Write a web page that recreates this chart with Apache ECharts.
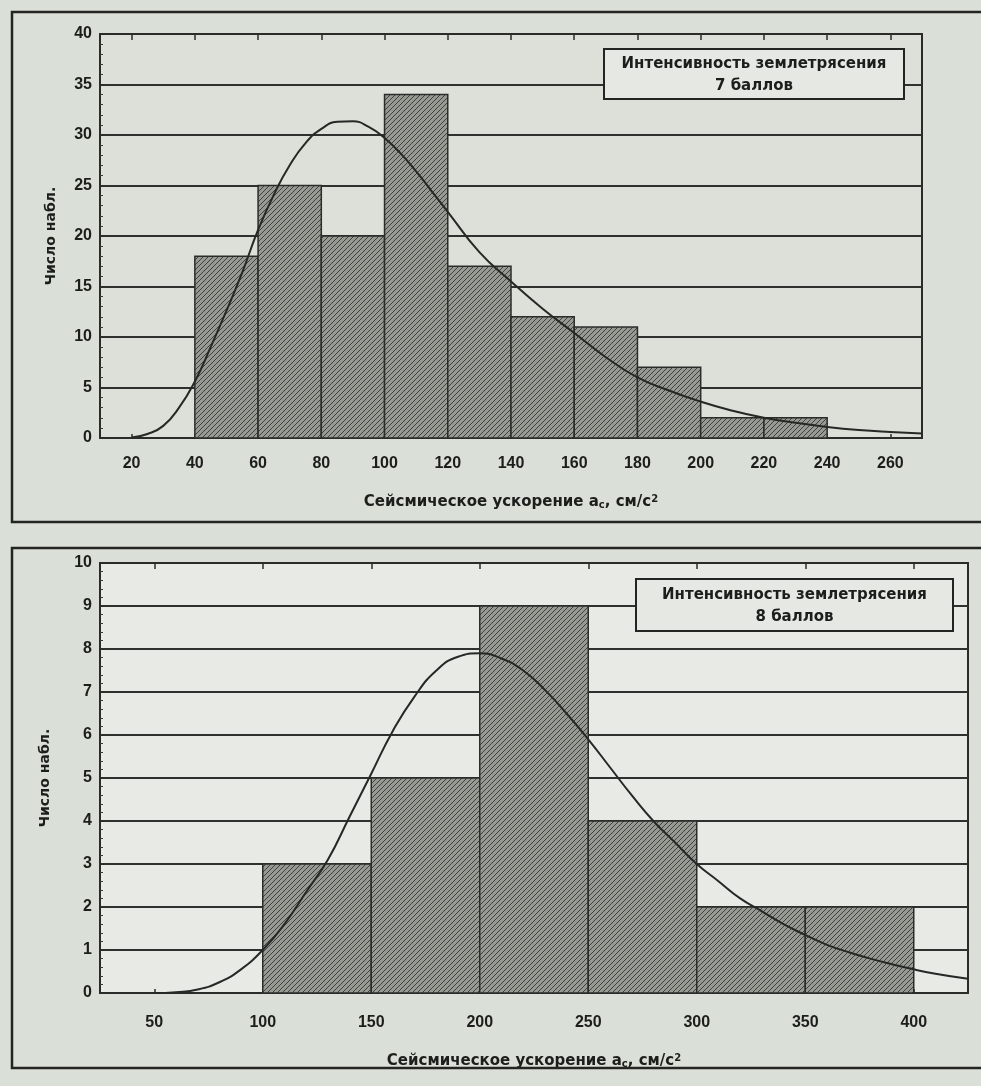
<!DOCTYPE html>
<html><head><meta charset="utf-8">
<script src="https://cdn.jsdelivr.net/npm/echarts@6/dist/echarts.min.js"></script>
<style>html,body{margin:0;padding:0;background:#dadfd7;} #c{width:981px;height:1086px;}</style>
</head><body><div id="c"></div>
<script>
// ---- Chart 1: intensity 7 ----
const bins7Start = [40, 60, 80, 100, 120, 140, 160, 180, 200, 220];
const binWidth7 = 20;
const counts7 = [18, 25, 20, 34, 17, 12, 11, 7, 2, 2];
const curve7X = [20, 25, 30, 35, 40, 45, 50, 55, 60, 65, 70, 75, 80, 85, 90, 95, 100, 105, 110, 115, 120, 130, 140, 150, 160, 170, 180, 190, 200, 210, 220, 230, 240, 250, 260, 270];
const curve7Y = [0.05, 0.4, 1.2, 3.0, 5.6, 9.0, 12.6, 16.4, 20.6, 24.1, 27.0, 29.2, 30.6, 31.3, 31.35, 30.8, 29.7, 28.2, 26.4, 24.4, 22.4, 18.4, 15.5, 12.8, 10.4, 8.0, 6.0, 4.7, 3.6, 2.7, 2.0, 1.5, 1.1, 0.8, 0.6, 0.45];
const xTicks7 = [20, 40, 60, 80, 100, 120, 140, 160, 180, 200, 220, 240, 260];
const legend7 = ['Интенсивность землетрясения', '7 баллов'];

// ---- Chart 2: intensity 8 ----
const bins8Start = [100, 150, 200, 250, 300, 350];
const binWidth8 = 50;
const counts8 = [3, 5, 9, 4, 2, 2];
const curve8X = [50, 60, 70, 80, 90, 100, 110, 120, 130, 140, 150, 160, 170, 180, 190, 200, 210, 220, 230, 240, 250, 260, 270, 280, 290, 300, 310, 320, 330, 340, 350, 360, 370, 380, 390, 400, 410, 425];
const curve8Y = [0, 0.02, 0.08, 0.25, 0.55, 1.0, 1.6, 2.35, 3.1, 4.1, 5.1, 6.1, 6.9, 7.5, 7.82, 7.9, 7.78, 7.5, 7.05, 6.5, 5.9, 5.25, 4.6, 4.0, 3.5, 3.0, 2.6, 2.2, 1.9, 1.6, 1.35, 1.12, 0.95, 0.8, 0.67, 0.55, 0.45, 0.33];
const xTicks8 = [50, 100, 150, 200, 250, 300, 350, 400];
const legend8 = ['Интенсивность землетрясения', '8 баллов'];

const yLabel = 'Число набл.';
const FONT = "'Liberation Sans','Arial',sans-serif";
const WIDE = "'DejaVu Sans','Liberation Sans',sans-serif";
const INK = '#1c1e1c';

// hatch pattern
const pc = document.createElement('canvas');
pc.width = 5; pc.height = 5;
const g = pc.getContext('2d');
g.fillStyle = '#959a93'; g.fillRect(0, 0, 5, 5);
g.strokeStyle = 'rgba(40,43,40,0.8)'; g.lineWidth = 1;
g.beginPath();
g.moveTo(0, 5); g.lineTo(5, 0);
g.moveTo(-2.5, 2.5); g.lineTo(2.5, -2.5);
g.moveTo(2.5, 7.5); g.lineTo(7.5, 2.5);
g.stroke();
const hatch = { image: pc, repeat: 'repeat' };

function histRender(params, api) {
  const p0 = api.coord([api.value(0), 0]);
  const p1 = api.coord([api.value(1), api.value(2)]);
  return {
    type: 'rect',
    shape: { x: p0[0], y: p1[1], width: p1[0] - p0[0], height: p0[1] - p1[1] },
    style: { fill: hatch, stroke: '#2a2c2a', lineWidth: 1.5 }
  };
}

const histData7 = bins7Start.map((s, i) => [s, s + binWidth7, counts7[i]]);
const histData8 = bins8Start.map((s, i) => [s, s + binWidth8, counts8[i]]);
const curveData7 = curve7X.map((x, i) => [x, curve7Y[i]]);
const curveData8 = curve8X.map((x, i) => [x, curve8Y[i]]);

const axisName = {
  name: 'Сейсмическое ускорение a{sub|c}, см/c{sup|2}',
  nameLocation: 'middle',
  nameTextStyle: {
    fontFamily: WIDE, fontWeight: 'bold', fontSize: 15, color: INK,
    rich: {
      sub: { fontFamily: WIDE, fontWeight: 'bold', fontSize: 10, color: INK, verticalAlign: 'bottom', padding: [6, 0, 0, 0] },
      sup: { fontFamily: WIDE, fontWeight: 'bold', fontSize: 10, color: INK, verticalAlign: 'top', padding: [0, 0, 6, 0] }
    }
  }
};

function bottomX(grid, min, max, ticks, gap, margin) {
  return Object.assign({
    type: 'value', gridIndex: grid, min: min, max: max, position: 'bottom',
    nameGap: gap,
    axisLine: { show: true, lineStyle: { color: '#2a2c2a', width: 2 } },
    axisTick: { show: true, inside: true, length: 4, customValues: ticks, lineStyle: { color: '#2a2c2a', width: 1.5 } },
    axisLabel: { customValues: ticks, fontFamily: FONT, fontWeight: 'bold', fontSize: 16, color: INK, margin: margin },
    splitLine: { show: false }
  }, axisName);
}
function topX(grid, min, max, ticks) {
  return {
    type: 'value', gridIndex: grid, min: min, max: max, position: 'top',
    axisLine: { show: true, lineStyle: { color: '#2a2c2a', width: 2 } },
    axisTick: { show: true, inside: true, length: 6, customValues: ticks, lineStyle: { color: '#2a2c2a', width: 1.5 } },
    axisLabel: { show: false },
    splitLine: { show: false }
  };
}
function leftY(grid, max, interval, gap) {
  return {
    type: 'value', gridIndex: grid, min: 0, max: max, interval: interval,
    name: yLabel, nameLocation: 'middle', nameRotate: 90, nameGap: gap,
    nameTextStyle: { fontFamily: WIDE, fontWeight: 'bold', fontSize: 14, color: INK },
    axisLine: { show: true, lineStyle: { color: '#2a2c2a', width: 2 } },
    axisTick: { show: true, inside: true, length: 4, lineStyle: { color: '#2a2c2a' } },
    minorTick: { show: true, splitNumber: 5, length: 3, lineStyle: { color: '#3a3c3a' } },
    axisLabel: { fontFamily: FONT, fontWeight: 'bold', fontSize: 16, color: INK, margin: 8 },
    splitLine: { show: true, lineStyle: { color: '#2f312f', width: 2 } }
  };
}

function legendBox(x, y, w, h, lines) {
  return {
    type: 'group', left: x, top: y, z: 100,
    children: [
      { type: 'rect', z: 100, shape: { x: 0, y: 0, width: w, height: h }, style: { fill: '#e6e9e3', stroke: '#232523', lineWidth: 2 } },
      { type: 'text', z: 101, x: w / 2, y: h * 0.31, style: { text: lines[0], fill: INK, font: 'bold 15px ' + WIDE, align: 'center', verticalAlign: 'middle' } },
      { type: 'text', z: 101, x: w / 2, y: h * 0.74, style: { text: lines[1], fill: INK, font: 'bold 15px ' + WIDE, align: 'center', verticalAlign: 'middle' } }
    ]
  };
}

const chart = echarts.init(document.getElementById('c'), null, { renderer: 'canvas' });
chart.setOption({
  backgroundColor: '#dadfd7',
  animation: false,
  grid: [
    { left: 100, top: 34, width: 822, height: 404, show: true, backgroundColor: '#dce0d8', borderColor: '#2a2c2a', borderWidth: 2 },
    { left: 100, top: 563, width: 868, height: 430, show: true, backgroundColor: '#e8ebe5', borderColor: '#2a2c2a', borderWidth: 2 }
  ],
  xAxis: [
    bottomX(0, 10, 270, xTicks7, 56, 18),
    topX(0, 10, 270, xTicks7),
    bottomX(1, 25, 425, xTicks8, 60, 22),
    topX(1, 25, 425, xTicks8)
  ],
  yAxis: [
    leftY(0, 40, 5, 42),
    leftY(1, 10, 1, 48)
  ],
  series: [
    { type: 'custom', xAxisIndex: 0, yAxisIndex: 0, renderItem: histRender, encode: { x: [0, 1], y: 2 }, data: histData7, z: 2 },
    { type: 'line', xAxisIndex: 0, yAxisIndex: 0, data: curveData7, smooth: 0.5, showSymbol: false, lineStyle: { color: '#262826', width: 2 }, z: 3 },
    { type: 'custom', xAxisIndex: 2, yAxisIndex: 1, renderItem: histRender, encode: { x: [0, 1], y: 2 }, data: histData8, z: 2 },
    { type: 'line', xAxisIndex: 2, yAxisIndex: 1, data: curveData8, smooth: 0.5, showSymbol: false, lineStyle: { color: '#262826', width: 2 }, z: 3 }
  ],
  graphic: [
    { type: 'rect', z: 90, shape: { x: 12, y: 12, width: 1000, height: 510 }, style: { fill: 'none', stroke: '#232523', lineWidth: 2.5 } },
    { type: 'rect', z: 90, shape: { x: 12, y: 548, width: 1000, height: 520 }, style: { fill: 'none', stroke: '#232523', lineWidth: 2.5 } },
    legendBox(603, 48, 300, 50, legend7),
    legendBox(635, 578, 317, 52, legend8)
  ]
});
</script>
</body></html>
